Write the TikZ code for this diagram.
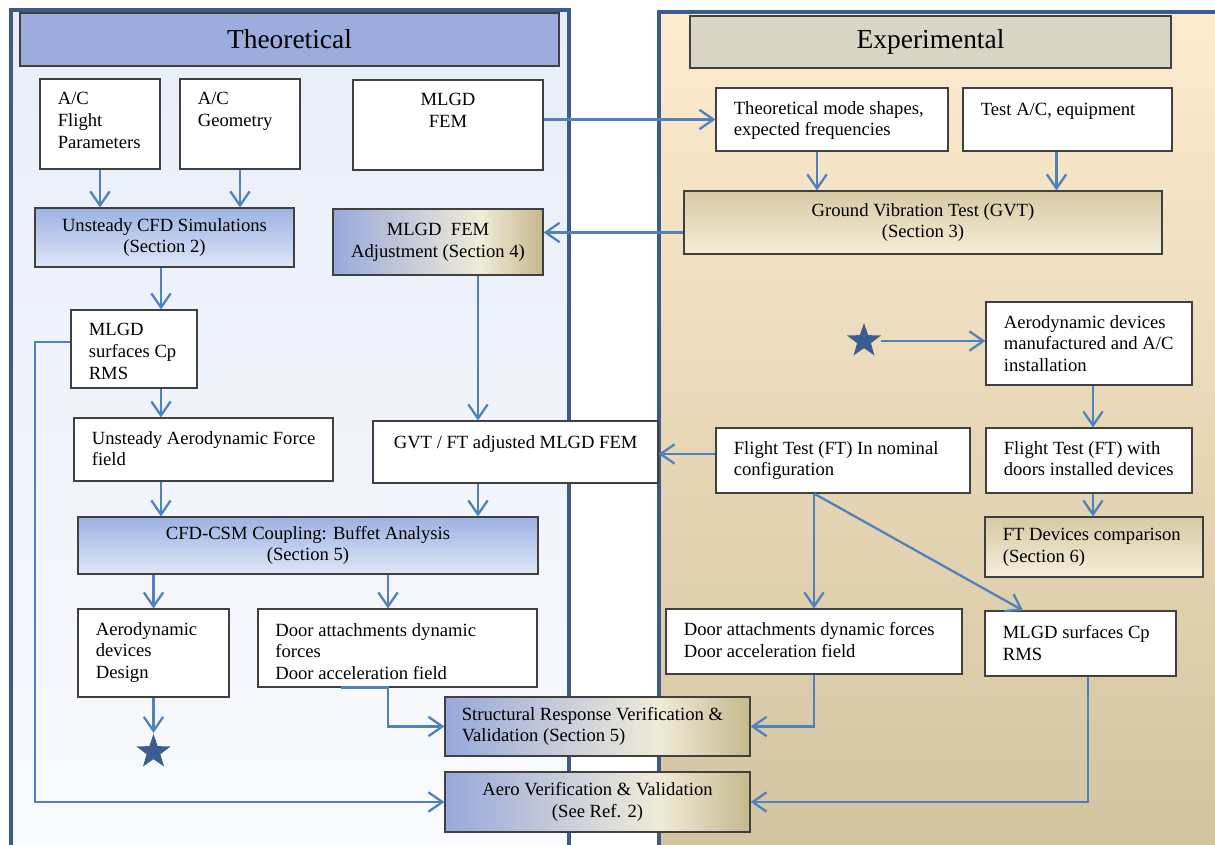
\documentclass[tikz,border=0pt]{standalone}
\usepackage{fontspec}
\setmainfont{Liberation Serif}
\usetikzlibrary{arrows.meta,calc,shapes.geometric}
\definecolor{theotop}{HTML}{E8EDF8}\definecolor{theobot}{HTML}{F9FAFD}
\definecolor{exptop}{HTML}{FDEBCF}\definecolor{expmid}{HTML}{F1E7D1}\definecolor{expbot}{HTML}{D3C4A0}
\definecolor{theohead}{HTML}{9BACDD}\definecolor{exphead}{HTML}{D9D5C5}
\definecolor{cfdtop}{HTML}{9DB2E2}\definecolor{cfdbot}{HTML}{DEE6F6}
\definecolor{vvleft}{HTML}{97A8DA}\definecolor{vvmid}{HTML}{F0EBD8}\definecolor{vvright}{HTML}{C6B88E}
\definecolor{gvttop}{HTML}{D6C9A3}\definecolor{gvtbot}{HTML}{F6EEDA}
\definecolor{arrblue}{HTML}{4F81BD}\definecolor{frameblue}{HTML}{3B5C8A}\definecolor{starblue}{HTML}{3A5E92}
\pgfdeclarehorizontalshading{bluecream}{100bp}{color(0bp)=(vvleft); color(25bp)=(vvleft); color(60bp)=(vvmid); color(75bp)=(vvright); color(100bp)=(vvright)}
\newcommand{\bxfont}{\fontsize{10.6}{12.35}\selectfont}
\newcommand{\ttlfont}{\fontsize{15.6}{18}\selectfont}
\tikzset{
box/.style={draw=black!75,line width=.6pt,fill=white,inner sep=0pt,font=\bxfont},
txt/.style={anchor=north west,inner sep=0pt,align=left,font=\bxfont},
frame/.style={frameblue,line width=2.3pt},
arr/.style={arrblue,line width=1.3pt,-{Straight Barb[length=8pt,width=11pt]}},
bluebox/.style={top color=cfdtop,bottom color=cfdbot},
tanbox/.style={top color=gvttop,bottom color=gvtbot},
mixbox/.style={shading=bluecream},
starmark/.style={star,star points=5,star point ratio=2.5,fill=starblue,inner sep=0pt,minimum size=.72cm}
}
\begin{document}
\begin{tikzpicture}
\useasboundingbox(0,0)rectangle(24.3,-16.9);
% panels
\fill[top color=theotop,bottom color=theobot](.22,-.2)rectangle(11.38,-17);
\fill[top color=exptop,middle color=expmid,bottom color=expbot](13.18,-.24)rectangle(24.5,-17);
\draw[frame](.22,-17)--(.22,-.2)--(11.38,-.2)--(11.38,-17);\draw[frame](13.18,-17)--(13.18,-.24)--(24.5,-.24);
\node[box,fill=theohead,minimum width=10.78cm,minimum height=1.06cm,font=\ttlfont](theo)at(5.79,-.79){Theoretical};
\node[box,fill=exphead,minimum width=9.62cm,minimum height=1.04cm,font=\ttlfont](exp)at(18.61,-.84){Experimental};
% theoretical side
\node[box,minimum width=2.4cm,minimum height=1.8cm](fp)at(2,-2.48){};\node[txt](fp-t)at([shift={(.36,-.27)}]fp.north west){A/C\\Flight\\Parameters};
\node[box,minimum width=2.4cm,minimum height=1.8cm](geo)at(4.8,-2.48){};\node[txt](geo-t)at([shift={(.36,-.27)}]geo.north west){A/C\\Geometry};
\node[box,minimum width=3.8cm,minimum height=1.8cm](fem)at(8.96,-2.5){};\node[txt,anchor=north,align=center](fem-t)at([yshift=-.27cm]fem.north){MLGD\\FEM};
\node[box,bluebox,minimum width=5.18cm,minimum height=1.18cm,align=center](cfd)at(3.29,-4.75){Unsteady CFD Simulations\\(Section 2)};
\node[box,mixbox,minimum width=4.2cm,minimum height=1.32cm,align=center](adj)at(8.76,-4.84){MLGD\ \ FEM\\Adjustment (Section 4)};
\node[box,minimum width=2.52cm,minimum height=1.56cm](surf)at(2.68,-6.98){};\node[txt](surf-t)at([shift={(.36,-.27)}]surf.north west){MLGD\\surfaces Cp\\RMS};
\node[box,minimum width=5.18cm,minimum height=1.26cm](uaf)at(4.07,-8.99){};\node[txt](uaf-t)at([shift={(.36,-.27)}]uaf.north west){Unsteady Aerodynamic Force\\field};
\node[box,minimum width=5.7cm,minimum height=1.24cm](gft)at(10.31,-9.04){};\node[txt](gft-t)at([shift={(.42,-.29)}]gft.north west){GVT / FT adjusted MLGD FEM};
\node[box,bluebox,minimum width=9.2cm,minimum height=1.14cm,align=center](csm)at(6.16,-10.91){CFD-CSM Coupling: Buffet Analysis\\(Section 5)};
\node[box,minimum width=3.02cm,minimum height=1.76cm](add)at(3.07,-13.06){};\node[txt](add-t)at([shift={(.36,-.27)}]add.north west){Aerodynamic\\devices\\Design};
\node[box,minimum width=5.58cm,minimum height=1.56cm](door)at(7.95,-12.96){};\node[txt](door-t)at([shift={(.35,-.29)}]door.north west){Door attachments dynamic\\forces\\Door acceleration field};
\node[starmark](star1)at(3.07,-15.04){};
\node[box,mixbox,minimum width=6.1cm,minimum height=1.18cm](srv)at(11.95,-14.53){};\node[txt,anchor=west](srv-t)at([xshift=.34cm]srv.west){Structural Response Verification \&\\Validation (Section 5)};
\node[box,mixbox,minimum width=6.1cm,minimum height=1.2cm,align=center](avv)at(11.95,-16.04){Aero Verification \& Validation\\(See Ref. 2)};
% experimental side
\node[box,minimum width=4.64cm,minimum height=1.26cm](ms)at(16.64,-2.39){};\node[txt](ms-t)at([shift={(.36,-.27)}]ms.north west){Theoretical mode shapes,\\expected frequencies};
\node[box,minimum width=4.18cm,minimum height=1.26cm](tac)at(21.35,-2.39){};\node[txt](tac-t)at([shift={(.36,-.31)}]tac.north west){Test A/C, equipment};
\node[box,tanbox,minimum width=9.56cm,minimum height=1.26cm,align=center](gvt)at(18.46,-4.45){Ground Vibration Test (GVT)\\(Section 3)};
\node[starmark](star2)at(17.28,-6.82){};
\node[box,minimum width=4.12cm,minimum height=1.66cm](man)at(21.78,-6.87){};\node[txt](man-t)at([shift={(.36,-.27)}]man.north west){Aerodynamic devices\\manufactured and A/C\\installation};
\node[box,minimum width=5.08cm,minimum height=1.3cm](ftn)at(16.86,-9.21){};\node[txt](ftn-t)at([shift={(.36,-.27)}]ftn.north west){Flight Test (FT) In nominal\\configuration};
\node[box,minimum width=4.12cm,minimum height=1.3cm](ftd)at(21.78,-9.21){};\node[txt](ftd-t)at([shift={(.36,-.27)}]ftd.north west){Flight Test (FT) with\\doors installed devices};
\node[box,tanbox,minimum width=4.36cm,minimum height=1.2cm](ftc)at(21.88,-10.94){};\node[txt,anchor=west](ftc-t)at([xshift=.36cm]ftc.west){FT Devices comparison\\(Section 6)};
\node[box,minimum width=5.92cm,minimum height=1.3cm](dr)at(16.28,-12.83){};\node[txt](dr-t)at([shift={(.36,-.27)}]dr.north west){Door attachments dynamic forces\\Door acceleration field};
\node[box,minimum width=3.82cm,minimum height=1.3cm](sr)at(21.61,-12.87){};\node[txt](sr-t)at([shift={(.36,-.29)}]sr.north west){MLGD surfaces Cp\\RMS};
% connectors
\coordinate(cA)at(3.22,0);\coordinate(cB)at(9.56,0);\coordinate(cC)at(7.76,0);\coordinate(cL)at(.7,0);\coordinate(cD)at(21.86,0);
\draw[arr](fp.south)--(fp.south|-cfd.north);\draw[arr](geo.south)--(geo.south|-cfd.north);
\draw[arr](fem.east|-ms.west)--(ms.west);
\draw[arr]([yshift=-.2cm]gvt.west)--([yshift=-.2cm]gvt.west-|adj.east);
\draw[arr]([xshift=-.3cm]ms.south)--([xshift=-.3cm]ms.south|-gvt.north);\draw[arr]([xshift=-.22cm]tac.south)--([xshift=-.22cm]tac.south|-gvt.north);
\draw[arr](cB|-adj.south)--(cB|-gft.north);\draw[arr](cB|-gft.south)--(cB|-csm.north);
\draw[arr](cA|-cfd.south)--(cA|-surf.north);\draw[arr](cA|-surf.south)--(cA|-uaf.north);\draw[arr](cA|-uaf.south)--(cA|-csm.north);
\draw[arr](add.north|-csm.south)--(add.north);\draw[arr](cC|-csm.south)--(cC|-door.north);
\draw[arr](add.south)--(star1.north);
\draw[arr]([xshift=-1.14cm]door.south)--(cC|-door.south)|-(srv.west);
\draw[arr]([yshift=.14cm]surf.west)-|(cL|-avv.west)--(avv.west);
\draw[arr,shorten <=4pt](star2.east)--(star2.east-|man.west);
\draw[arr](cD|-man.south)--(cD|-ftd.north);\draw[arr](cD|-ftd.south)--(cD|-ftc.north);
\draw[arr]([yshift=.13cm]ftn.west)--([yshift=.13cm]ftn.west-|gft.east);
\draw[arr](dr.north|-ftn.south)--(dr.north);\draw[arr](dr.north|-ftn.south)--([xshift=-1.15cm]sr.north);
\draw[arr](dr.south)|-(srv.east);\draw[arr]([xshift=.15cm]sr.south)|-(avv.east);
\end{tikzpicture}
\end{document}
